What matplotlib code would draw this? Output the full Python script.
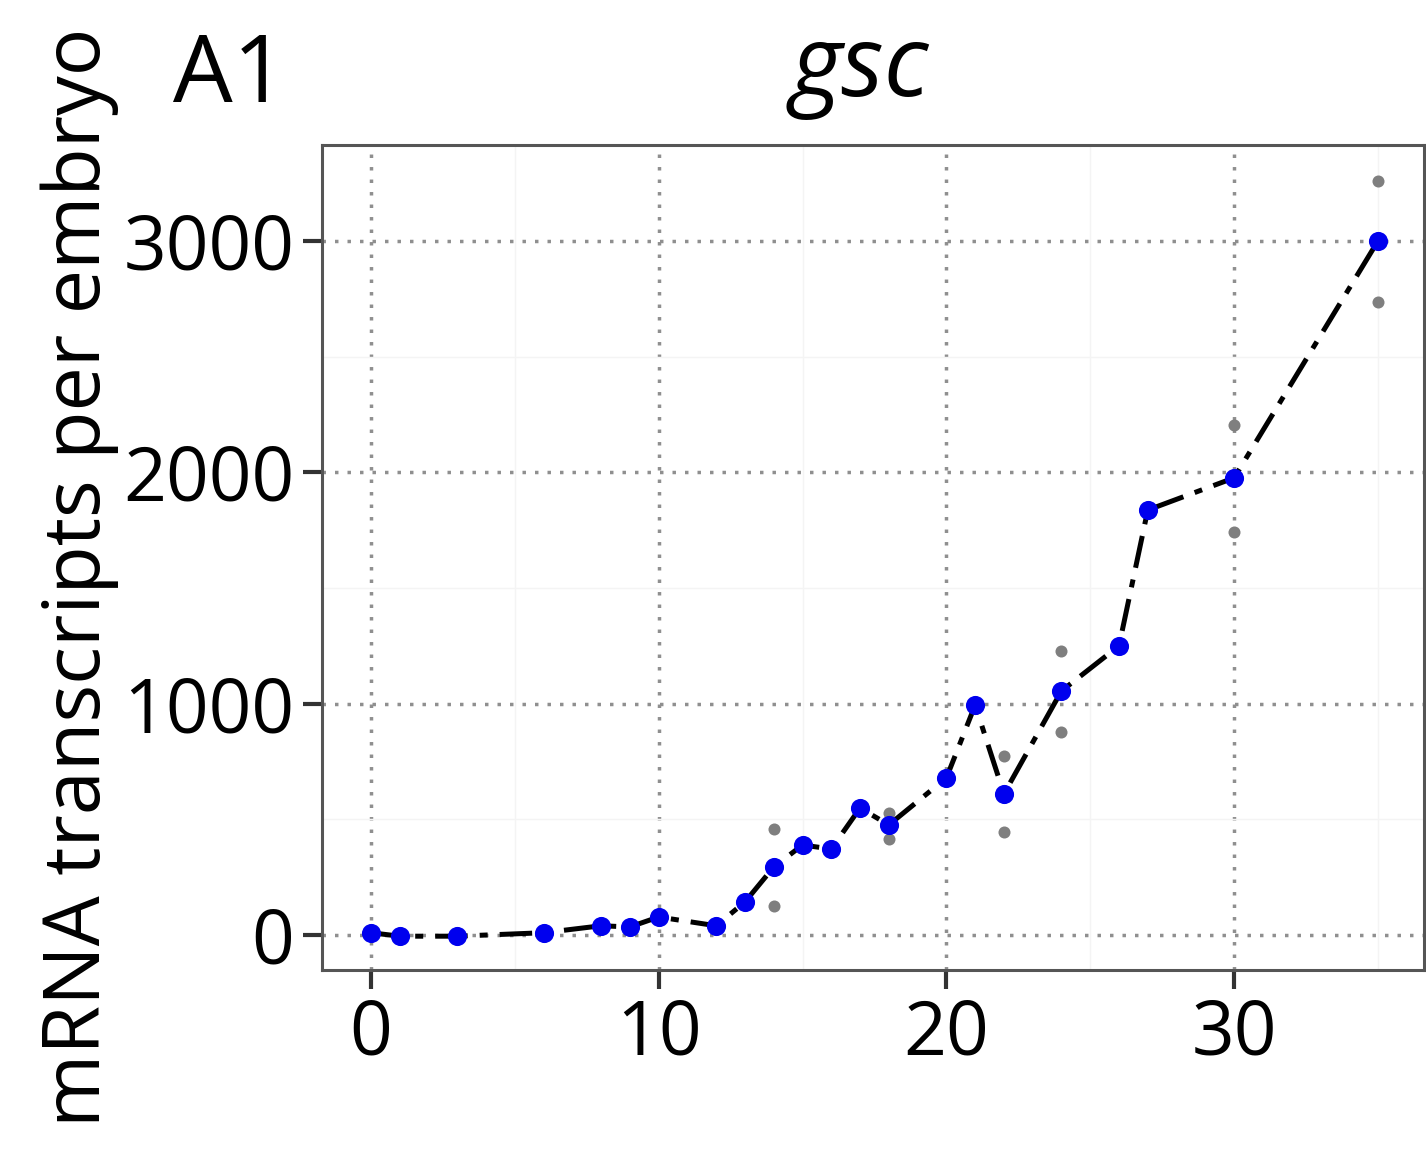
import matplotlib
matplotlib.use("Agg")
import matplotlib.pyplot as plt
from matplotlib.ticker import MultipleLocator

# Data
time_h = [0, 1, 3, 6, 8, 9, 10, 12, 13, 14, 15, 16, 17, 18, 20, 21, 22, 24, 26, 27, 30, 35]
mean_tx = [10, -5, -5, 10, 40, 35, 78, 40, 143, 294, 389, 372, 549, 476, 679, 994, 610, 1055, 1250, 1837, 1976, 3000]
rep_time = [14, 14, 18, 18, 22, 22, 24, 24, 30, 30, 35, 35]
rep_tx = [458, 125, 527, 415, 774, 445, 1228, 878, 2205, 1742, 3260, 2737]
x_ticks = [0, 10, 20, 30]
y_ticks = [0, 1000, 2000, 3000]

plt.rcParams['font.family'] = ['Open Sans', 'DejaVu Sans']

fig = plt.figure(figsize=(14.26, 11.55), dpi=100)
ax = fig.add_axes([0.2258, 0.1602, 0.7728, 0.7143])

ax.set_xlim(-1.7, 36.6)
ax.set_ylim(-151, 3415)
ax.xaxis.set_minor_locator(MultipleLocator(5))
ax.yaxis.set_minor_locator(MultipleLocator(500))
ax.set_xticks(x_ticks)
ax.set_yticks(y_ticks)
ax.set_xticklabels([str(v) for v in x_ticks])
ax.set_yticklabels([str(v) for v in y_ticks])

ax.grid(which='major', color='#8f8f8f', linestyle=(0, (1, 2.6)), linewidth=2.5)
ax.grid(which='minor', color='#f4f4f4', linestyle='-', linewidth=1.0)
ax.set_axisbelow(True)

ax.scatter(rep_time, rep_tx, s=75, color='#7f7f7f', zorder=3, linewidths=0)
ax.plot(time_h, mean_tx, color='black', linewidth=3.6,
        linestyle=(0, (6.5, 2.4, 1.6, 2.4)), zorder=4)
ax.scatter(time_h, mean_tx, s=190, color='#0000ee', zorder=5, linewidths=0)

for sp in ax.spines.values():
    sp.set_color('#555555')
    sp.set_linewidth(2.2)

ax.tick_params(axis='both', which='major', length=14, width=3, color='#333333',
               labelsize=54, pad=6)
ax.tick_params(which='minor', length=0)

fig.text(0.056, 0.50, 'mRNA transcripts per embryo', fontsize=57,
         rotation=90, ha='center', va='center')

fig.text(0.603, 0.917, 'gsc', fontsize=71, style='italic', ha='center', va='baseline')
fig.text(0.121, 0.912, 'A1', fontsize=68, ha='left', va='baseline')

fig.savefig('out.png', dpi=100)
